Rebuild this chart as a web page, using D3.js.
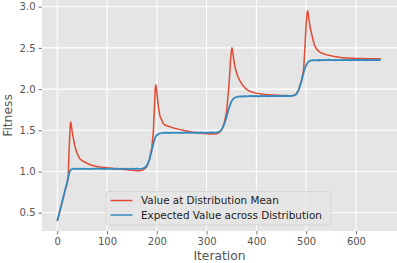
<!DOCTYPE html>
<html><head><meta charset="utf-8">
<script src="https://cdn.jsdelivr.net/npm/d3@7"></script>
<style>html,body{margin:0;padding:0;background:#fff;}svg{display:block;font-family:"DejaVu Sans",sans-serif;}</style>
</head><body>
<script>
const iterations = [0,5,10,15,20,22,24,26,27,28,
30,32,35,38,42,46,
50,55,60,65,70,75,80,85,90,95,100,105,110,115,120,125,130,135,140,145,150,155,160,165,170,175,180,185,190,
193,195,196,197,198,
200,203,206,210,213,216,
220,225,230,235,240,245,250,255,260,265,270,275,280,285,290,295,300,305,310,315,320,325,330,335,340,345,
348,350,351,352,354,357,
360,363,367,372,377,382,388,395,
400,405,410,415,420,425,430,435,440,445,450,455,460,465,470,475,480,485,490,495,
498,500,502,503,504,506,508,511,514,517,521,
525,530,535,540,545,550,555,560,565,570,575,580,585,590,595,600,605,610,615,620,625,630,635,640,645,650];

const meanValues = [0.40,0.51,0.63,0.75,0.86,0.95,1.30,1.56,1.60,1.57,
1.48,1.41,1.32,1.25,1.19,1.15,
1.13,1.115,1.10,1.085,1.075,1.066,1.06,1.055,1.05,1.048,1.045,1.041,1.039,1.036,1.033,1.03,1.027,1.024,1.02,1.018,1.015,1.012,1.01,1.01,1.013,1.03,1.06,1.14,1.29,
1.48,1.75,1.90,2.02,2.05,
1.96,1.79,1.68,1.62,1.585,1.565,
1.555,1.545,1.535,1.526,1.518,1.511,1.505,1.498,1.492,1.486,1.48,1.475,1.47,1.466,1.463,1.46,1.458,1.456,1.455,1.455,1.458,1.47,1.50,1.58,1.72,2.05,
2.35,2.47,2.50,2.48,2.38,2.27,
2.20,2.15,2.10,2.05,2.015,1.99,1.97,1.957,
1.95,1.945,1.94,1.936,1.933,1.931,1.929,1.927,1.926,1.924,1.923,1.922,1.921,1.92,1.92,1.925,1.94,1.995,2.09,2.24,
2.56,2.79,2.93,2.95,2.92,2.83,2.75,2.67,2.59,2.53,2.485,
2.46,2.44,2.428,2.418,2.41,2.404,2.398,2.393,2.388,2.384,2.381,2.378,2.376,2.374,2.373,2.372,2.371,2.37,2.37,2.369,2.369,2.368,2.368,2.367,2.367,2.367];

const expectedValues = [0.40,0.52,0.64,0.76,0.87,0.93,0.98,1.01,1.02,1.025,
1.03,1.034,1.031,1.036,1.032,1.035,
1.031,1.036,1.033,1.03,1.035,1.032,1.037,1.031,1.034,1.03,1.035,1.032,1.036,1.03,1.034,1.031,1.035,1.032,1.036,1.03,1.034,1.032,1.035,1.033,1.036,1.045,1.07,1.14,1.26,
1.34,1.38,1.40,1.415,1.425,
1.44,1.455,1.462,1.466,1.47,1.468,
1.471,1.467,1.472,1.469,1.473,1.468,1.472,1.47,1.474,1.469,1.472,1.468,1.473,1.47,1.474,1.469,1.472,1.47,1.474,1.471,1.475,1.48,1.505,1.565,1.66,1.77,
1.82,1.85,1.86,1.87,1.885,1.895,
1.903,1.908,1.912,1.91,1.915,1.912,1.917,1.913,
1.916,1.912,1.917,1.914,1.918,1.913,1.917,1.915,1.919,1.914,1.918,1.915,1.919,1.916,1.918,1.92,1.935,1.99,2.08,2.20,
2.26,2.29,2.31,2.32,2.33,2.338,2.343,2.348,2.35,2.352,2.349,
2.353,2.35,2.355,2.351,2.356,2.352,2.355,2.35,2.354,2.351,2.356,2.352,2.355,2.35,2.354,2.352,2.356,2.351,2.354,2.35,2.355,2.352,2.354,2.35,2.353,2.351];

const seriesNames = ["Value at Distribution Mean", "Expected Value across Distribution"];
const seriesColors = ["#E24A33", "#348ABD"];
const xTicks = [0,100,200,300,400,500,600];
const yTicks = [0.5,1.0,1.5,2.0,2.5,3.0];
const xLabel = "Iteration";
const yLabel = "Fitness";

const W = 397, H = 263;
const L = 42, R = 397, T = 0, B = 231;

const svg = d3.select("body").append("svg").attr("width", W).attr("height", H);

const x = d3.scaleLinear().domain([-30.7, 682.5]).range([L, R]);
const y = d3.scaleLinear().domain([0.278, 3.081]).range([B, T]);

svg.append("rect").attr("x", L).attr("y", T).attr("width", R - L).attr("height", B - T).attr("fill", "#E5E5E5");

// grid
svg.append("g").selectAll("line").data(xTicks).join("line")
  .attr("x1", d => x(d)).attr("x2", d => x(d)).attr("y1", T).attr("y2", B)
  .attr("stroke", "#fff").attr("stroke-width", 1.1);
svg.append("g").selectAll("line").data(yTicks).join("line")
  .attr("x1", L).attr("x2", R).attr("y1", d => y(d)).attr("y2", d => y(d))
  .attr("stroke", "#fff").attr("stroke-width", 1.1);

// axes
const xAxis = svg.append("g").attr("transform", `translate(0,${B})`)
  .call(d3.axisBottom(x).tickValues(xTicks).tickFormat(d3.format("d")).tickSize(3.5).tickPadding(3));
const yAxis = svg.append("g").attr("transform", `translate(${L},0)`)
  .call(d3.axisLeft(y).tickValues(yTicks).tickFormat(d3.format(".1f")).tickSize(3.5).tickPadding(3));
[xAxis, yAxis].forEach(a => {
  a.select(".domain").remove();
  a.selectAll(".tick line").attr("stroke", "#555").attr("stroke-width", 0.8);
  a.selectAll(".tick text").attr("fill", "#555").style("font-size", "10px").style("font-family", "DejaVu Sans");
});

svg.append("text").attr("x", (L + R) / 2).attr("y", 260).attr("text-anchor", "middle")
  .attr("fill", "#555").style("font-size", "12.3px").text(xLabel);
svg.append("text").attr("transform", `translate(11.5,${(T + B) / 2}) rotate(-90)`).attr("text-anchor", "middle")
  .attr("fill", "#555").style("font-size", "12.3px").text(yLabel);

// lines
const clip = svg.append("clipPath").attr("id", "c").append("rect").attr("x", L).attr("y", T).attr("width", R - L).attr("height", B - T);
const line = d3.line().x((d, i) => x(iterations[i])).y(d => y(d));
const plot = svg.append("g").attr("clip-path", "url(#c)");
[meanValues, expectedValues].forEach((vals, k) => {
  plot.append("path").datum(vals).attr("d", line).attr("fill", "none")
    .attr("stroke", seriesColors[k]).attr("stroke-width", k === 1 ? 1.8 : 1.5)
    .attr("stroke-linejoin", "round");
});

// legend
const lg = svg.append("g");
lg.append("rect").attr("x", 106).attr("y", 191.5).attr("width", 225).attr("height", 33.5).attr("rx", 2)
  .attr("fill", "#E5E5E5").attr("fill-opacity", 0.8).attr("stroke", "#CCCCCC").attr("stroke-opacity", 0.8).attr("stroke-width", 0.8);
seriesNames.forEach((name, k) => {
  const yy = 200.5 + k * 14.5;
  lg.append("line").attr("x1", 110.5).attr("x2", 132.5).attr("y1", yy).attr("y2", yy)
    .attr("stroke", seriesColors[k]).attr("stroke-width", 1.5);
  lg.append("text").attr("x", 141).attr("y", yy + 3.6).attr("fill", "#222").style("font-size", "10.4px").text(name);
});
</script>
</body></html>
